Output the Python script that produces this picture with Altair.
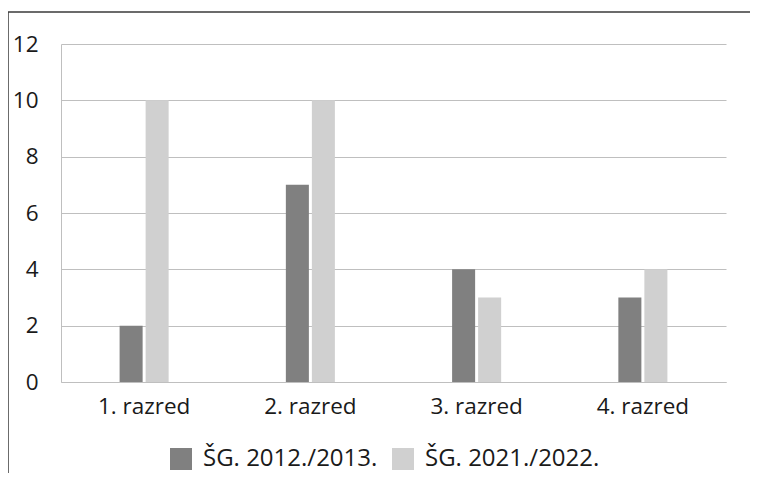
import altair as alt
import pandas as pd

categories = ["1. razred", "2. razred", "3. razred", "4. razred"]
series_names = ["ŠG. 2012./2013.", "ŠG. 2021./2022."]
values_2012 = [2, 7, 4, 3]
values_2021 = [10, 10, 3, 4]
y_ticks = [0, 2, 4, 6, 8, 10, 12]

rows = []
for c, a, b in zip(categories, values_2012, values_2021):
    rows.append({"razred": c, "serija": series_names[0], "vrijednost": a})
    rows.append({"razred": c, "serija": series_names[1], "vrijednost": b})
df = pd.DataFrame(rows)

FONT = "Open Sans"
FS = 22.5

bars = alt.Chart(df).mark_bar().encode(
    x=alt.X("razred:N", sort=categories, title=None,
            scale=alt.Scale(paddingInner=0.705, paddingOuter=0.3525),
            axis=alt.Axis(labelAngle=0, ticks=False, domainColor="#bfbfbf",
                          labelPadding=13, labelFontSize=FS, labelFont=FONT,
                          labelColor="#1a1a1a")),
    xOffset=alt.XOffset("serija:N", sort=series_names,
                        scale=alt.Scale(paddingInner=0.115, paddingOuter=0)),
    y=alt.Y("vrijednost:Q", title=None,
            scale=alt.Scale(domain=[0, 12], nice=False),
            axis=alt.Axis(values=y_ticks, ticks=False, domainColor="#bfbfbf",
                          gridColor="#bfbfbf", gridWidth=1.2, labelPadding=23,
                          labelFontSize=FS, labelFont=FONT, labelColor="#1a1a1a")),
    color=alt.Color("serija:N", sort=series_names,
                    scale=alt.Scale(domain=series_names, range=["#808080", "#d0d0d0"]),
                    legend=alt.Legend(title=None, orient="none", direction="horizontal",
                                      legendX=108, legendY=403, symbolType="square",
                                      symbolSize=484, symbolStrokeWidth=0,
                                      labelFontSize=24, labelFont=FONT,
                                      labelColor="#1a1a1a", labelOffset=10,
                                      columnPadding=13, labelLimit=400)),
)

border = pd.DataFrame({"a": [0]})
frame_top = alt.Chart(border).mark_rule(stroke="#3a3a3a", strokeWidth=1.5).encode(
    x=alt.value(-53), x2=alt.value(720), y=alt.value(-32)
)
frame_left = alt.Chart(border).mark_rule(stroke="#3a3a3a", strokeWidth=1.5).encode(
    x=alt.value(-53), y=alt.value(-32), y2=alt.value(440)
)

chart = alt.layer(bars, frame_top, frame_left).properties(
    width=665, height=338,
    autosize=alt.AutoSizeParams(type="none"),
    padding={"left": 53, "top": 36, "right": 24, "bottom": 91},
).configure_view(stroke=None)

chart.save("out.html", embed_options={"renderer": "svg", "actions": False})
